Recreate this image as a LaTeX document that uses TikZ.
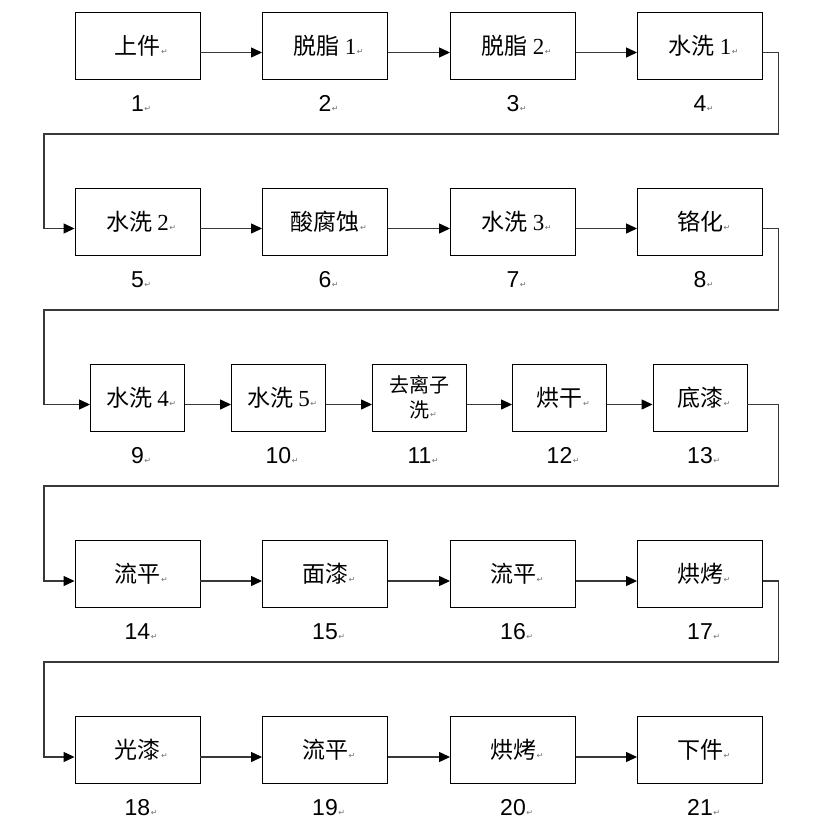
\documentclass[tikz,border=0pt]{standalone}
\usepackage{fontspec}
\setmainfont{Liberation Serif}
\newfontfamily\cjk{Noto Sans CJK SC}
\newfontfamily\numfont{Liberation Sans}
\newfontfamily\symfont{DejaVu Sans}
\usetikzlibrary{arrows.meta}
\newcommand{\retmark}{\rlap{\kern0.5pt{\symfont\fontsize{8}{8}\selectfont\textcolor{black!55}{↵}}}}
\begin{document}
\begin{tikzpicture}[x=1pt,y=-1pt,
  box/.style={draw=black, line width=0.9pt, minimum width=125pt, minimum height=67pt,
    inner sep=0pt, align=center, font=\cjk\fontsize{23}{27}\selectfont},
  sbox/.style={box, minimum width=94pt},
  num/.style={font=\numfont\fontsize{23}{26}\selectfont, inner sep=0pt},
  conn/.style={draw=black!78, line width=1.2pt, -{Triangle[length=11pt,width=10pt,fill=black,color=black]}},
]
\useasboundingbox[fill=white] (0,0) rectangle (822,827);

% Row 1
\node[box] (b1) at (137.5,45.5) {上件\retmark};
\node[box] (b2) at (325,45.5) {脱脂 {\rmfamily 1}\retmark};
\node[box] (b3) at (513,45.5) {脱脂 {\rmfamily 2}\retmark};
\node[box] (b4) at (700,45.5) {水洗 {\rmfamily 1}\retmark};
% Row 2
\node[box] (b5) at (137.5,221.5) {水洗 {\rmfamily 2}\retmark};
\node[box] (b6) at (325,221.5) {酸腐蚀\retmark};
\node[box] (b7) at (513,221.5) {水洗 {\rmfamily 3}\retmark};
\node[box] (b8) at (700,221.5) {铬化\retmark};
% Row 3
\node[sbox] (b9) at (137.5,397.5) {水洗 {\rmfamily 4}\retmark};
\node[sbox] (b10) at (278.5,397.5) {水洗 {\rmfamily 5}\retmark};
\node[sbox, font=\cjk\fontsize{20}{25}\selectfont] (b11) at (419.5,397.5) {去离子\\洗\retmark};
\node[sbox] (b12) at (559.5,397.5) {烘干\retmark};
\node[sbox] (b13) at (700,397.5) {底漆\retmark};
% Row 4
\node[box] (b14) at (137.5,574) {流平\retmark};
\node[box] (b15) at (325,574) {面漆\retmark};
\node[box] (b16) at (513,574) {流平\retmark};
\node[box] (b17) at (700,574) {烘烤\retmark};
% Row 5
\node[box] (b18) at (137.5,750) {光漆\retmark};
\node[box] (b19) at (325,750) {流平\retmark};
\node[box] (b20) at (513,750) {烘烤\retmark};
\node[box] (b21) at (700,750) {下件\retmark};

% Numbers
\foreach \i in {1,...,21}{
  \node[num] (n\i) at ([yshift=-24pt]b\i.south) {\i\retmark};
}

% Row connectors
\foreach \a/\b in {1/2,2/3,3/4,5/6,6/7,7/8,9/10,10/11,11/12,12/13,14/15,15/16,16/17,18/19,19/20,20/21}{
  \draw[conn] ([yshift=-7pt]b\a.east) -- ([yshift=-7pt]b\b.west);
}

% Return connectors
\coordinate (r1) at (778.5,134);  \coordinate (l1) at (44,134);
\coordinate (r2) at (778.5,310);  \coordinate (l2) at (44,310);
\coordinate (r3) at (778.5,486);  \coordinate (l3) at (44,486);
\coordinate (r4) at (778.5,662);  \coordinate (l4) at (44,662);
\draw[conn] ([yshift=-7pt]b4.east) -| (r1) -- (l1) |- ([yshift=-7pt]b5.west);
\draw[conn] ([yshift=-7pt]b8.east) -| (r2) -- (l2) |- ([yshift=-7pt]b9.west);
\draw[conn] ([yshift=-7pt]b13.east) -| (r3) -- (l3) |- ([yshift=-7pt]b14.west);
\draw[conn] ([yshift=-7pt]b17.east) -| (r4) -- (l4) |- ([yshift=-7pt]b18.west);
\end{tikzpicture}
\end{document}
